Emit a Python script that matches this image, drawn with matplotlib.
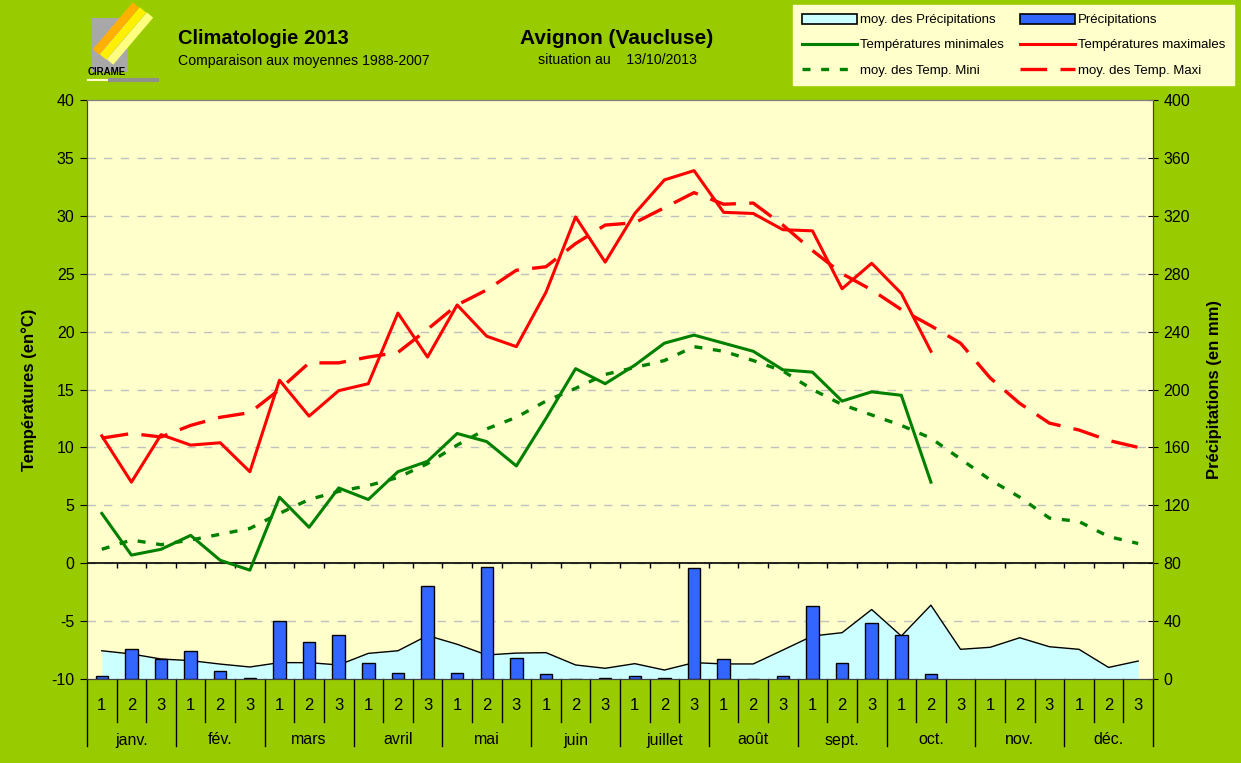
import numpy as np
import matplotlib
matplotlib.use("Agg")
import matplotlib.pyplot as plt
from matplotlib.lines import Line2D
from matplotlib.patches import Patch, Rectangle
import matplotlib.transforms as mtransforms

plt.rcParams['font.family'] = ['Liberation Sans', 'DejaVu Sans']
plt.rcParams['axes.unicode_minus'] = False

# decades of the year (3 per month)
months = ["janv.", "fév.", "mars", "avril", "mai", "juin",
          "juillet", "août", "sept.", "oct.", "nov.", "déc."]
decades = ["1", "2", "3"] * 12

# 2013 observations (until 2nd decade of October)
tmax = [11.0, 7.0, 11.1, 10.2, 10.4, 7.9, 15.8, 12.7, 14.9, 15.5, 21.6, 17.8,
        22.3, 19.6, 18.7, 23.4, 29.9, 26.0, 30.2, 33.1, 33.9, 30.3, 30.2, 28.8,
        28.7, 23.7, 25.9, 23.3, 18.3]
tmin = [4.3, 0.7, 1.2, 2.4, 0.25, -0.6, 5.7, 3.1, 6.5, 5.5, 7.9, 8.8,
        11.2, 10.5, 8.4, 12.5, 16.8, 15.5, 17.1, 19.0, 19.7, 19.0, 18.3, 16.7,
        16.5, 14.0, 14.8, 14.5, 7.0]
precip = [2, 21, 14, 19.5, 5.5, 0.7, 40, 25.5, 30.5, 11, 4, 64,
          4, 77.5, 14.3, 3.5, 0, 0.9, 2.3, 0.5, 76.5, 13.8, 0, 2,
          50.4, 11, 38.5, 30.4, 3.2]

# 1988-2007 averages
tmax_moy = [10.8, 11.2, 10.9, 11.9, 12.6, 13.0, 15.0, 17.3, 17.3, 17.8, 18.2, 20.2,
            22.3, 23.6, 25.3, 25.6, 27.6, 29.2, 29.4, 30.7, 32.0, 31.0, 31.1, 29.2,
            27.0, 25.0, 23.6, 21.9, 20.5, 19.0, 16.0, 13.8, 12.1, 11.5, 10.6, 10.0]
tmin_moy = [1.2, 2.0, 1.6, 2.0, 2.5, 3.0, 4.3, 5.5, 6.2, 6.7, 7.4, 8.6,
            10.2, 11.6, 12.6, 14.0, 15.1, 16.3, 16.9, 17.5, 18.7, 18.3, 17.5, 16.6,
            15.0, 13.7, 12.8, 11.9, 10.8, 9.0, 7.2, 5.7, 3.9, 3.6, 2.3, 1.7]
precip_moy = [19.5, 17.3, 13.8, 12.7, 10.3, 8.3, 11.3, 11.3, 9.7, 17.7, 19.5, 30,
              24, 16.6, 17.9, 18.2, 9.7, 7.4, 10.6, 6.2, 11.3, 10.4, 10.4, 20,
              29.7, 32, 48, 29.7, 51, 20.5, 21.9, 28.5, 22.3, 20.5, 8, 12.4]

green_bg = "#99CC00"
plot_bg = "#FFFFCC"

W, H = 1241, 763
fig = plt.figure(figsize=(W / 100, H / 100), dpi=100, facecolor=green_bg)


def fx(px):
    return px / W


def fy(py):
    return 1 - py / H


left, right, top, bottom = 87, 1153, 100, 679
ax_p = fig.add_axes([fx(left), fy(bottom), fx(right - left), (bottom - top) / H])
ax_t = ax_p.twinx()
ax_p.set_facecolor(plot_bg)

x_all = np.arange(36) + 0.5
x_obs = x_all[:len(tmax)]

# precipitation (right axis)
ax_p.fill_between(x_all, 0, precip_moy, color="#CCFFFF", zorder=2, lw=0)
ax_p.plot(x_all, precip_moy, color="black", lw=1, zorder=3)
ax_p.bar(x_obs, precip, width=0.42, color="#3366FF", edgecolor="black", lw=1, zorder=4)
ax_p.set_ylim(0, 400)
ax_p.set_xlim(0, 36)
ax_p.set_yticks(np.arange(0, 401, 40))
ax_p.yaxis.tick_right()
ax_p.tick_params(axis="y", direction="inout", length=7, labelsize=11.5, pad=4)
for yv in np.arange(40, 400, 40):
    ax_p.axhline(yv, color="#C0C0C0", lw=1, dashes=(6, 6), zorder=1)

# temperatures (left axis)
ax_t.plot(x_all, tmax_moy, color="#FF0000", lw=2.4, dashes=(8, 4), zorder=5)
ax_t.plot(x_all, tmin_moy, color="#008000", lw=2.4, dashes=(2.4, 3.2), zorder=5)
ax_t.plot(x_obs, tmax, color="#FF0000", lw=2.2, zorder=6)
ax_t.plot(x_obs, tmin, color="#008000", lw=2.2, zorder=6)
ax_t.set_ylim(-10, 40)
ax_t.set_yticks(np.arange(-10, 41, 5))
ax_t.yaxis.tick_left()
ax_t.tick_params(axis="y", direction="out", length=5, labelsize=11.5, pad=4)
ax_t.axhline(0, color="black", lw=1.2, zorder=4)
ax_t.vlines(np.arange(1, 36), -0.45, 0, color="black", lw=1, zorder=4)

for a in (ax_p, ax_t):
    a.set_xticks([])
    a.spines["top"].set_color("#808080")
    a.spines["bottom"].set_color("#404040")
    a.spines["left"].set_color("#404040")
    a.spines["right"].set_color("#404040")

ax_t.yaxis.set_label_position("left")
ax_t.set_ylabel("Températures (en°C)", fontsize=12, fontweight="bold", labelpad=10)
ax_p.yaxis.set_label_position("right")
ax_p.set_ylabel("Précipitations (en mm)", fontsize=12, fontweight="bold", labelpad=12)

# two-level category axis below the plot
trans = mtransforms.blended_transform_factory(ax_p.transData, ax_p.transAxes)
h_ax = bottom - top
y_dec = -(722 - bottom) / h_ax
y_mon = -(746 - bottom) / h_ax
for i in range(37):
    y_end = y_mon if i % 3 == 0 else y_dec
    ax_p.plot([i, i], [0, y_end], color="black", lw=1, transform=trans, clip_on=False)
for i, d in enumerate(decades):
    ax_p.text(i + 0.5, -(706 - bottom) / h_ax, d, transform=trans, ha="center",
              va="center", fontsize=12)
for m, name in enumerate(months):
    ax_p.text(3 * m + 1.5, -(740 - bottom) / h_ax, name, transform=trans, ha="center",
              va="center", fontsize=11.5)

# titles
fig.text(fx(178), fy(39), "Climatologie 2013", fontsize=14.5, fontweight="bold",
         ha="left", va="center")
fig.text(fx(178), fy(61), "Comparaison aux moyennes 1988-2007", fontsize=10.2,
         ha="left", va="center")
fig.text(fx(617), fy(39), "Avignon (Vaucluse)", fontsize=15, fontweight="bold",
         ha="center", va="center")
fig.text(fx(617), fy(60), "situation au    13/10/2013", fontsize=10.2,
         ha="center", va="center")

# logo (rough sketch)
fig.add_artist(Rectangle((fx(92), fy(72)), fx(36), (72 - 18) / H, facecolor="#A8A8A8",
                         edgecolor="none", transform=fig.transFigure))
for k, col in enumerate(["#FFB000", "#FFF000", "#FFFF80"]):
    fig.add_artist(Line2D([fx(96 + 7 * k), fx(136 + 7 * k)], [fy(52 + 5 * k), fy(5 + 5 * k)],
                          color=col, lw=6, solid_capstyle="butt", transform=fig.transFigure))
fig.text(fx(88), fy(72), "CIRAME", fontsize=7, fontweight="bold", ha="left", va="center")
fig.add_artist(Line2D([fx(88), fx(110)], [fy(80), fy(80)], color="#FFFFCC", lw=1.5,
                      transform=fig.transFigure))
fig.add_artist(Line2D([fx(110), fx(157)], [fy(80), fy(80)], color="#909090", lw=3,
                      transform=fig.transFigure))

# legend
handles = [
    Patch(facecolor="#CCFFFF", edgecolor="black", lw=1.2),
    Line2D([], [], color="#008000", lw=2.2),
    Line2D([], [], color="#008000", lw=2.4, dashes=(2.4, 3.2)),
    Patch(facecolor="#3366FF", edgecolor="black", lw=1.2),
    Line2D([], [], color="#FF0000", lw=2.2),
    Line2D([], [], color="#FF0000", lw=2.4, dashes=(8, 4)),
]
labels = ["moy. des Précipitations", "Températures minimales", "moy. des Temp. Mini",
          "Précipitations", "Températures maximales", "moy. des Temp. Maxi"]
leg = fig.legend(handles, labels, ncol=2, loc="upper left",
                 bbox_to_anchor=(fx(793), fy(84), fx(1234 - 793), (84 - 5) / H),
                 mode="expand", fontsize=9.5, frameon=True, fancybox=False,
                 facecolor=plot_bg, edgecolor=plot_bg, framealpha=1,
                 handlelength=4.2, handleheight=0.8, handletextpad=0.2,
                 labelspacing=0.95, borderpad=0.65, columnspacing=1.0, borderaxespad=0)

fig.savefig("out.png", dpi=100, facecolor=green_bg)
